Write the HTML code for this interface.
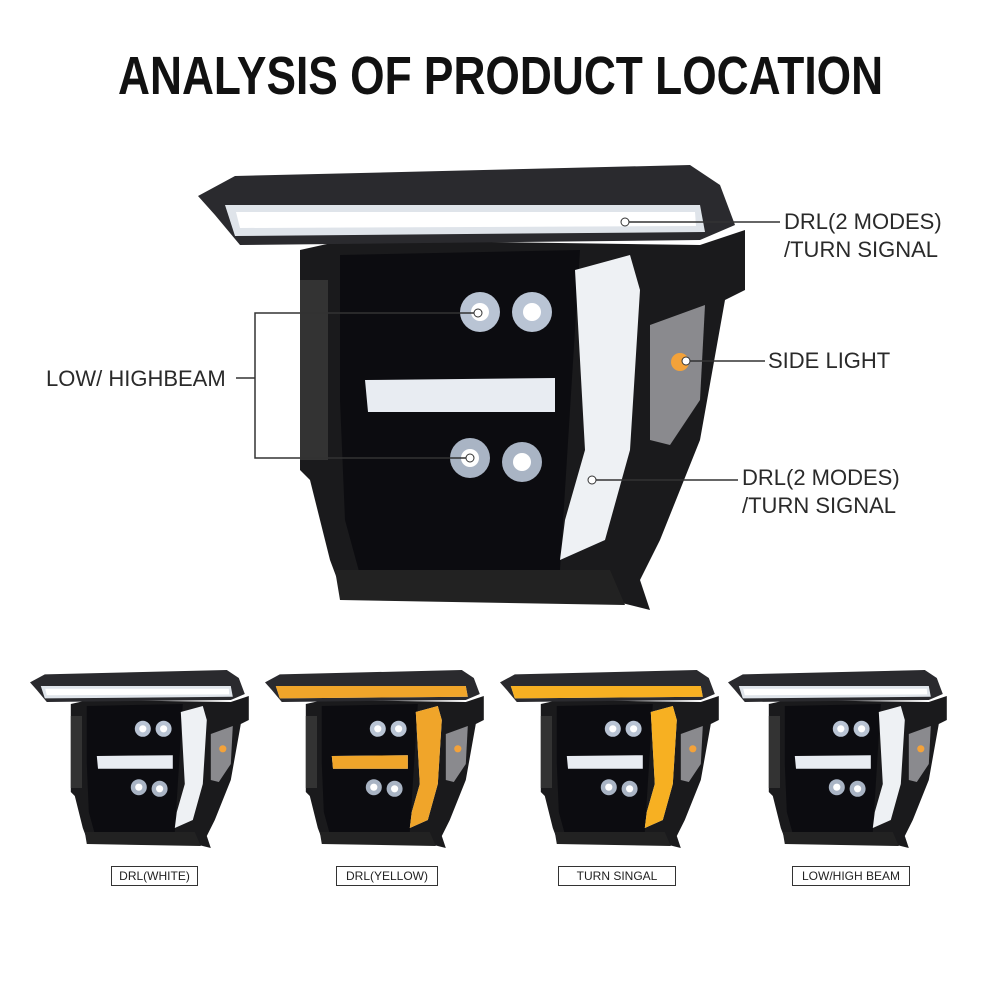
<!DOCTYPE html>
<html><head><meta charset="utf-8"><style>
html,body{margin:0;padding:0;background:#fff;}
#w{position:relative;width:1000px;height:1000px;overflow:hidden;font-family:"Liberation Sans",sans-serif;}
.t{position:absolute;left:0;width:1000px;top:46px;text-align:center;font-size:54px;line-height:60px;font-weight:bold;color:#111;transform:scaleX(0.82);transform-origin:503px 0;}
.l{position:absolute;font-size:22px;color:#2a2a2a;white-space:nowrap;}
.b{position:absolute;top:866px;height:18px;border:1px solid #333;font-size:12px;line-height:18px;text-align:center;color:#222;}
svg{position:absolute;left:0;top:0;}
</style></head><body><div id="w">
<div class="t">ANALYSIS OF PRODUCT LOCATION</div>
<svg width="1000" height="1000" viewBox="0 0 1000 1000">
<defs>
<g id="hl">
 <polygon points="300,250 345,240 700,245 745,230 745,290 725,300 700,440 660,540 640,580 650,610 610,600 380,600 345,600 330,560 310,480 300,470 300,270" fill="#1a1a1c"/>
 <polygon points="340,255 580,250 560,570 360,575 345,520 340,400" fill="#0c0c10"/>
 <polygon points="198,196 235,176 690,165 720,185 735,225 700,240 240,245 215,215" fill="#2a2a2e"/>
 <polygon points="225,205 700,205 705,232 235,236" fill="#dfe4ea"/>
 <polygon points="236,212 695,212 696,226 240,228" fill="#fff"/>
 <circle cx="480" cy="312" r="20" fill="#b9c4d4"/><circle cx="480" cy="312" r="9" fill="#fff"/>
 <circle cx="532" cy="312" r="20" fill="#b9c4d4"/><circle cx="532" cy="312" r="9" fill="#fff"/>
 <circle cx="470" cy="458" r="20" fill="#a9b4c4"/><circle cx="470" cy="458" r="9" fill="#fff"/>
 <circle cx="522" cy="462" r="20" fill="#a9b4c4"/><circle cx="522" cy="462" r="9" fill="#fff"/>
 <polygon points="365,380 555,378 555,412 368,412" fill="#e8ecf2"/>
 <polygon points="575,270 630,255 640,290 630,450 605,540 560,560 565,520 585,450" fill="#eef1f4"/>
 <polygon points="650,325 705,305 700,400 670,445 650,440" fill="#8a8a8e"/>
 <circle cx="680" cy="362" r="9" fill="#f3a23a"/>
 <rect x="300" y="280" width="28" height="180" fill="#333"/>
 <polygon points="335,570 610,570 625,605 340,600" fill="#222"/>
</g>
</defs>
<use href="#hl"/>
<g fill="none" stroke="#333" stroke-width="1.5">
 <line x1="625" y1="222" x2="780" y2="222"/>
 <line x1="686" y1="361" x2="765" y2="361"/>
 <line x1="592" y1="480" x2="738" y2="480"/>
 <polyline points="478,313 255,313 255,458 470,458"/>
 <line x1="236" y1="378" x2="255" y2="378"/>
</g>
<g fill="#fff" stroke="#333"><circle cx="625" cy="222" r="4"/><circle cx="686" cy="361" r="4"/><circle cx="592" cy="480" r="4"/><circle cx="478" cy="313" r="4"/><circle cx="470" cy="458" r="4"/></g>
<g transform="translate(-49.2,604) scale(0.4)"><use href="#hl"/></g>
<g transform="translate(185.8,604) scale(0.4)"><use href="#hl"/>
 <polygon points="225,205 700,205 705,232 235,236" fill="#f0a52a"/>
 <polygon points="575,270 630,255 640,290 630,450 605,540 560,560 565,520 585,450" fill="#f0a52a"/>
 <polygon points="365,380 555,378 555,412 368,412" fill="#f0a52a"/></g>
<g transform="translate(420.8,604) scale(0.4)"><use href="#hl"/>
 <polygon points="225,205 700,205 705,232 235,236" fill="#f7b022"/>
 <polygon points="575,270 630,255 640,290 630,450 605,540 560,560 565,520 585,450" fill="#f7b022"/></g>
<g transform="translate(648.8,604) scale(0.4)"><use href="#hl"/></g>
</svg>
<div class="l" style="left:784px;top:209px">DRL(2 MODES)</div>
<div class="l" style="left:784px;top:237px">/TURN SIGNAL</div>
<div class="l" style="left:768px;top:348px">SIDE LIGHT</div>
<div class="l" style="left:742px;top:465px">DRL(2 MODES)</div>
<div class="l" style="left:742px;top:493px">/TURN SIGNAL</div>
<div class="l" style="left:46px;top:366px">LOW/ HIGHBEAM</div>
<div class="b" style="left:111px;width:85px">DRL(WHITE)</div>
<div class="b" style="left:336px;width:100px">DRL(YELLOW)</div>
<div class="b" style="left:558px;width:116px">TURN SINGAL</div>
<div class="b" style="left:792px;width:116px">LOW/HIGH BEAM</div>
</div></body></html>
